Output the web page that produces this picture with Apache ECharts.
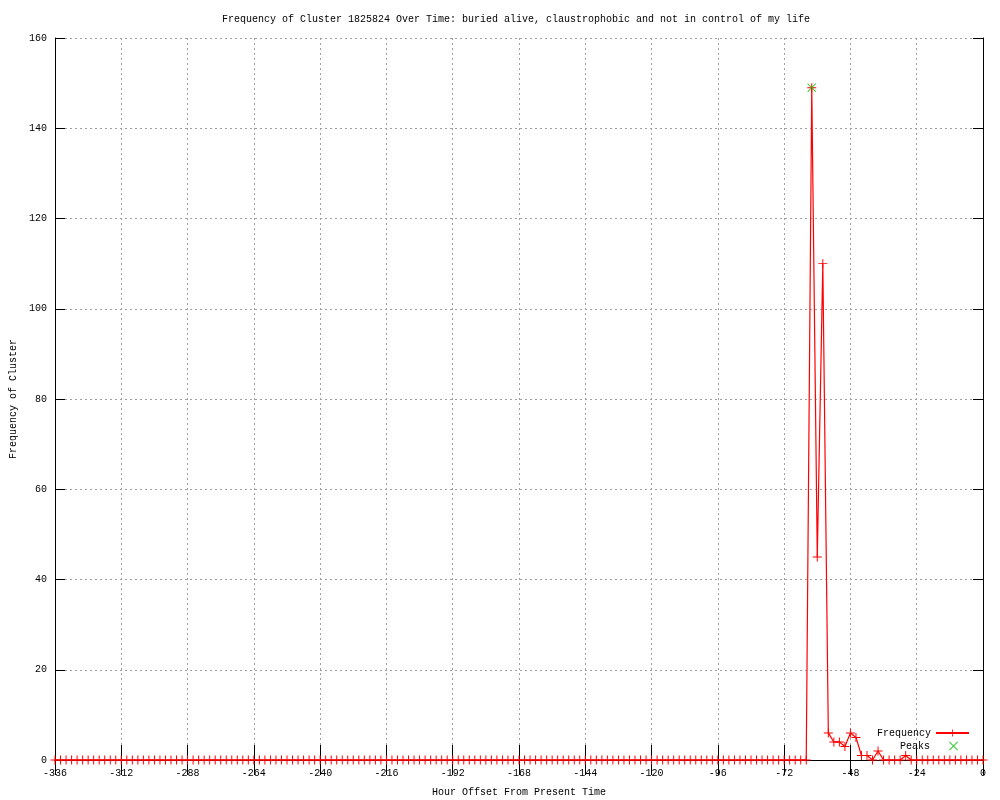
<!DOCTYPE html>
<html>
<head>
<meta charset="utf-8">
<script src="https://cdn.jsdelivr.net/npm/echarts@6/dist/echarts.min.js"></script>
<style>html,body{margin:0;padding:0;background:#fff}#c{width:1000px;height:800px}</style>
</head>
<body>
<div id="c"></div>
<script>
// Hours: -336 .. 0, one sample every 2 hours
const startHour = -336;
const stepHours = 2;
const frequency = [
  0,0,0,0,0,0,0,0,0,0,0,0,0,0,0,0,0,0,0,0,
  0,0,0,0,0,0,0,0,0,0,0,0,0,0,0,0,0,0,0,0,
  0,0,0,0,0,0,0,0,0,0,0,0,0,0,0,0,0,0,0,0,
  0,0,0,0,0,0,0,0,0,0,0,0,0,0,0,0,0,0,0,0,
  0,0,0,0,0,0,0,0,0,0,0,0,0,0,0,0,0,0,0,0,
  0,0,0,0,0,0,0,0,0,0,0,0,0,0,0,0,0,0,0,0,
  0,0,0,0,0,0,0,0,0,0,0,0,0,0,0,0,0,
  149,45,110,6,4,4,3,6,5,1,1,0,2,0,0,0,0,1,
  0,0,0,0,0,0,0,0,0,0,0,0,0,0
];
const peakHours = [-62];
const peakValues = [149];
const xTicks = {min: -336, max: 0, interval: 24};
const yTicks = {min: 0, max: 160, interval: 20};

const freqData = frequency.map((v, i) => [startHour + i * stepHours, v]);
const peakData = peakHours.map((h, i) => [h, peakValues[i]]);

const FONT = '"Liberation Mono", "DejaVu Sans Mono", monospace';
const PLUS = 'path://M0,4.45H10V5.55H0Z M4.45,0H5.55V10H4.45Z';
const XMARK = 'path://M0.8,0L5,4.2L9.2,0L10,0.8L5.8,5L10,9.2L9.2,10L5,5.8L0.8,10L0,9.2L4.2,5L0,0.8Z';

const chart = echarts.init(document.getElementById('c'), null, {renderer: 'canvas'});
const gridLine = {show: true, lineStyle: {color: '#a0a0a0', type: [2, 3], width: 1}};
const blackLine = {show: true, lineStyle: {color: '#000', width: 1}};
const legendText = {fontFamily: FONT, fontSize: 10, color: '#000', lineHeight: 12};
chart.setOption({
  animation: false,
  backgroundColor: '#fff',
  title: {
    text: 'Frequency of Cluster 1825824 Over Time: buried alive, claustrophobic and not in control of my life',
    left: 217, top: 9,
    textStyle: {fontFamily: FONT, fontSize: 10, fontWeight: 'normal', color: '#000'}
  },
  legend: [
    {data: ['Frequency'], orient: 'vertical', right: 30, top: 727, align: 'right', padding: 0,
     itemWidth: 33, itemHeight: 9, itemGap: 0, textStyle: legendText},
    {data: ['Peaks'], orient: 'vertical', right: 42, top: 740, align: 'right', padding: 0,
     itemWidth: 9, itemHeight: 9, itemGap: 0,
     textStyle: Object.assign({}, legendText, {padding: [0, 14, 0, 0]})}
  ],
  grid: {left: 55, right: 17, top: 38, bottom: 40, containLabel: false, outerBoundsMode: 'none'},
  xAxis: [
    {type: 'value', min: xTicks.min, max: xTicks.max, interval: xTicks.interval, position: 'bottom',
     name: 'Hour Offset From Present Time', nameLocation: 'middle', nameGap: 27,
     nameTextStyle: {fontFamily: FONT, fontSize: 10, color: '#000'},
     axisLine: {show: true, onZero: false, lineStyle: {color: '#000', width: 1}},
     axisTick: {show: true, inside: true, length: 15, lineStyle: {color: '#000'}},
     axisLabel: {fontFamily: FONT, fontSize: 10, color: '#000', margin: 8},
     splitLine: gridLine},
    {type: 'value', min: xTicks.min, max: xTicks.max, interval: xTicks.interval, position: 'top',
     axisLine: blackLine, axisTick: {show: true, inside: true, length: 15, lineStyle: {color: '#000'}},
     axisLabel: {show: false}, splitLine: {show: false}}
  ],
  yAxis: [
    {type: 'value', min: yTicks.min, max: yTicks.max, interval: yTicks.interval, position: 'left',
     name: 'Frequency of Cluster', nameLocation: 'middle', nameGap: 37, nameRotate: 90,
     nameTextStyle: {fontFamily: FONT, fontSize: 10, color: '#000'},
     axisLine: {show: true, onZero: false, lineStyle: {color: '#000', width: 1}},
     axisTick: {show: true, inside: true, length: 10, lineStyle: {color: '#000'}},
     axisLabel: {fontFamily: FONT, fontSize: 10, color: '#000', margin: 8},
     splitLine: gridLine},
    {type: 'value', min: yTicks.min, max: yTicks.max, interval: yTicks.interval, position: 'right',
     axisLine: blackLine, axisTick: {show: true, inside: true, length: 10, lineStyle: {color: '#000'}},
     axisLabel: {show: false}, splitLine: {show: false}}
  ],
  series: [
    {name: 'Frequency', type: 'line', data: freqData, xAxisIndex: 0, yAxisIndex: 0,
     symbol: PLUS, symbolSize: 9, showSymbol: true, showAllSymbol: true, clip: false,
     lineStyle: {color: '#ff0000', width: 1.2}, itemStyle: {color: '#ff0000'}, z: 3,
     emphasis: {disabled: true}},
    {name: 'Peaks', type: 'scatter', data: peakData, xAxisIndex: 0, yAxisIndex: 0,
     symbol: XMARK, symbolSize: 9, clip: false,
     itemStyle: {color: '#00c000'}, z: 4, emphasis: {disabled: true}}
  ]
});
</script>
</body>
</html>
